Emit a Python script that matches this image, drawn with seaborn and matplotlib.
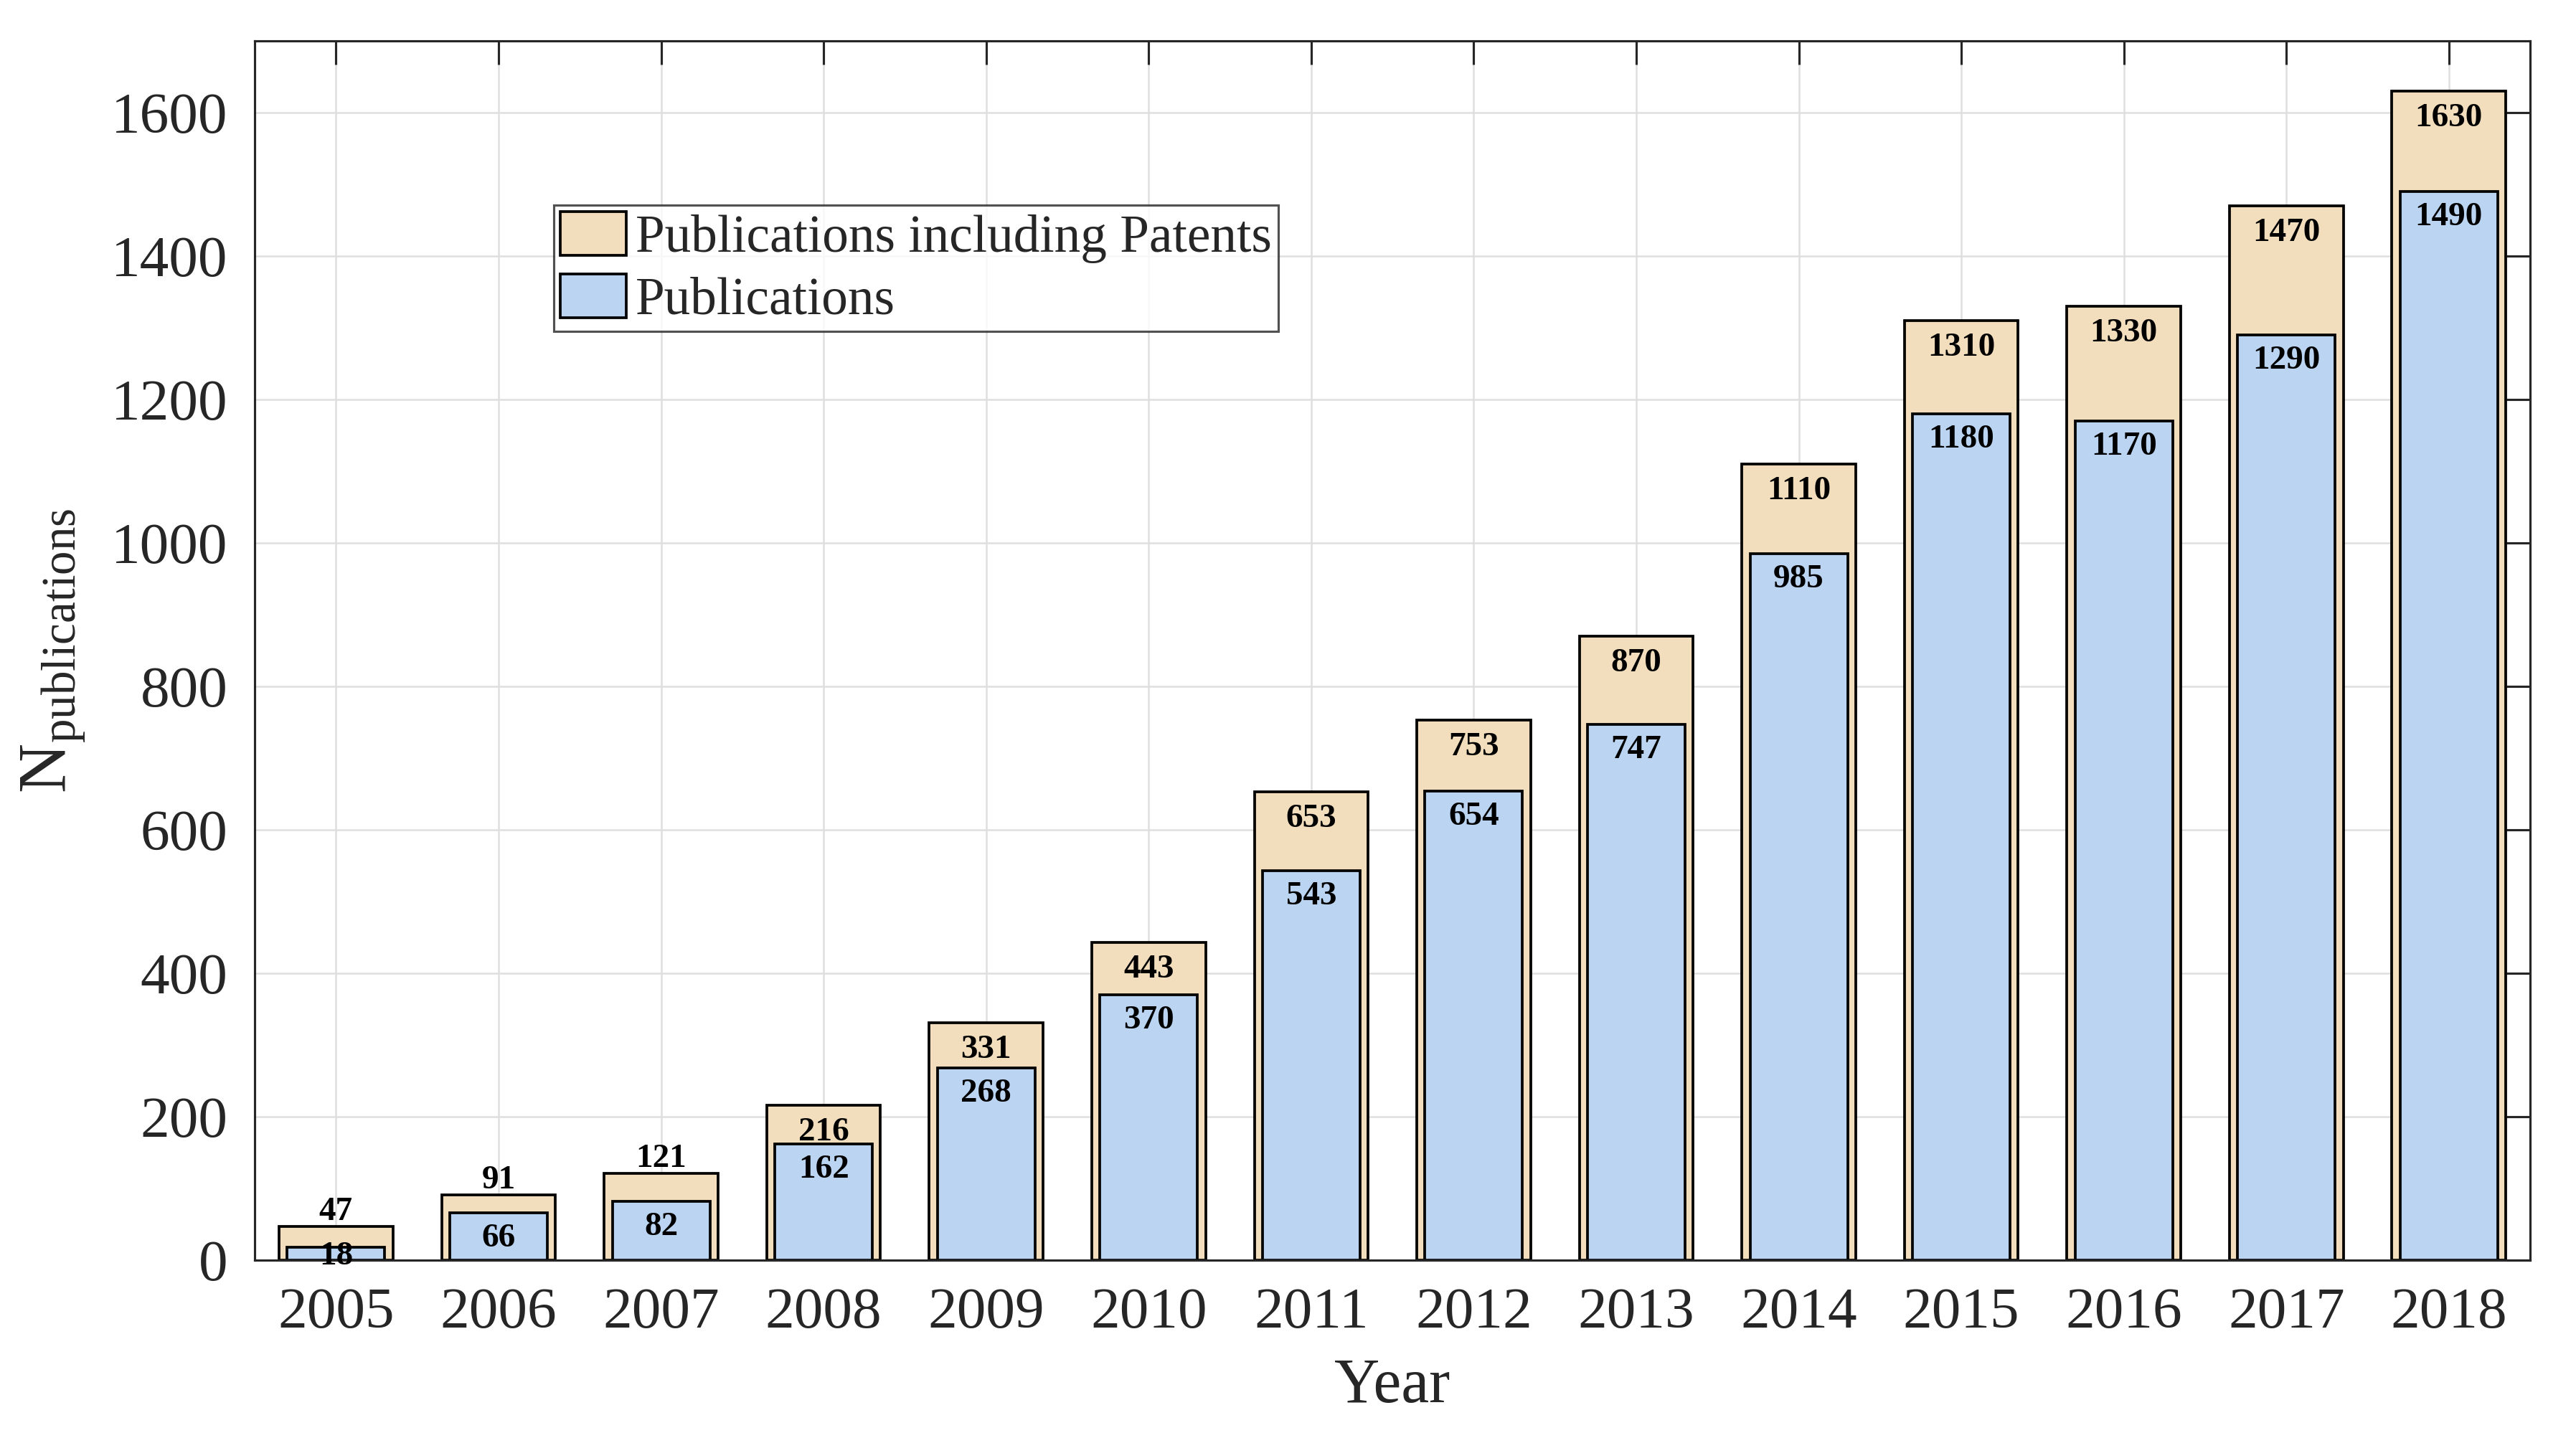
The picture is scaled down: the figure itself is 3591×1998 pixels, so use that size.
import matplotlib
matplotlib.use("Agg")
import matplotlib.pyplot as plt
import seaborn as sns
import pandas as pd

years = ["2005", "2006", "2007", "2008", "2009", "2010", "2011",
         "2012", "2013", "2014", "2015", "2016", "2017", "2018"]
with_patents = [47, 91, 121, 216, 331, 443, 653, 753, 870, 1110, 1310, 1330, 1470, 1630]
publications = [18, 66, 82, 162, 268, 370, 543, 654, 747, 985, 1180, 1170, 1290, 1490]
label_patents = "Publications including Patents"
label_pubs = "Publications"

sns.set_theme(style="white")
plt.rcParams["font.family"] = ["Liberation Serif", "DejaVu Serif"]
plt.rcParams["mathtext.fontset"] = "custom"
plt.rcParams["mathtext.rm"] = "Liberation Serif"
plt.rcParams["mathtext.it"] = "Liberation Serif:italic"
plt.rcParams["mathtext.bf"] = "Liberation Serif:bold"

tan = "#F2DEBD"
blue = "#BAD4F2"
dark = "#262626"

df = pd.DataFrame({"year": years, "all": with_patents, "pub": publications})

fig = plt.figure(figsize=(3591 / 300, 1998 / 300), dpi=300)
ax = fig.add_axes([0.0989, 0.1206, 0.9822 - 0.0989, 0.9715 - 0.1206])

sns.barplot(data=df, x="year", y="all", color=tan, width=0.7, saturation=1,
            edgecolor="black", linewidth=0.9, ax=ax)
sns.barplot(data=df, x="year", y="pub", color=blue, width=0.6, saturation=1,
            edgecolor="black", linewidth=0.9, ax=ax)

ax.set_xlim(-0.5, len(years) - 0.5)
ax.set_ylim(0, 1700)
ax.set_yticks(range(0, 1601, 200))

# value labels
for i, v in enumerate(with_patents):
    y = v + 20 if v < 150 else v - 38
    ax.text(i, y, str(v), ha="center", va="center", fontsize=11.3,
            fontweight="bold", color="black", zorder=5)
for i, v in enumerate(publications):
    y = max(v - 36, 5)
    ax.text(i, y, str(v), ha="center", va="center", fontsize=11.3,
            fontweight="bold", color="black", zorder=5)

ax.set_axisbelow(True)
ax.xaxis.grid(True, color="#DFDFDF", linewidth=0.6)
ax.yaxis.grid(True, color="#DFDFDF", linewidth=0.6)

for s in ax.spines.values():
    s.set_visible(True)
    s.set_color(dark)
    s.set_linewidth(0.75)

ax.tick_params(direction="in", top=True, right=True, length=8, width=0.75,
               color=dark, labelsize=19.5, labelcolor=dark, pad=9)

ax.set_xlabel("Year", fontsize=21, color=dark, labelpad=6)
ax.set_ylabel(r"N$_{\mathrm{publications}}$", fontsize=23, color=dark, labelpad=8)

leg = ax.legend([ax.containers[0], ax.containers[1]], [label_patents, label_pubs],
                loc="upper left", bbox_to_anchor=(0.1315, 0.865), borderaxespad=0,
                fontsize=17.6, frameon=True, fancybox=False, edgecolor=dark,
                handlelength=1.25, handleheight=0.9, handletextpad=0.18,
                labelspacing=0.2, borderpad=0.12)
leg.get_frame().set_linewidth(0.75)

fig.savefig("out.png", dpi=300, facecolor="white")
